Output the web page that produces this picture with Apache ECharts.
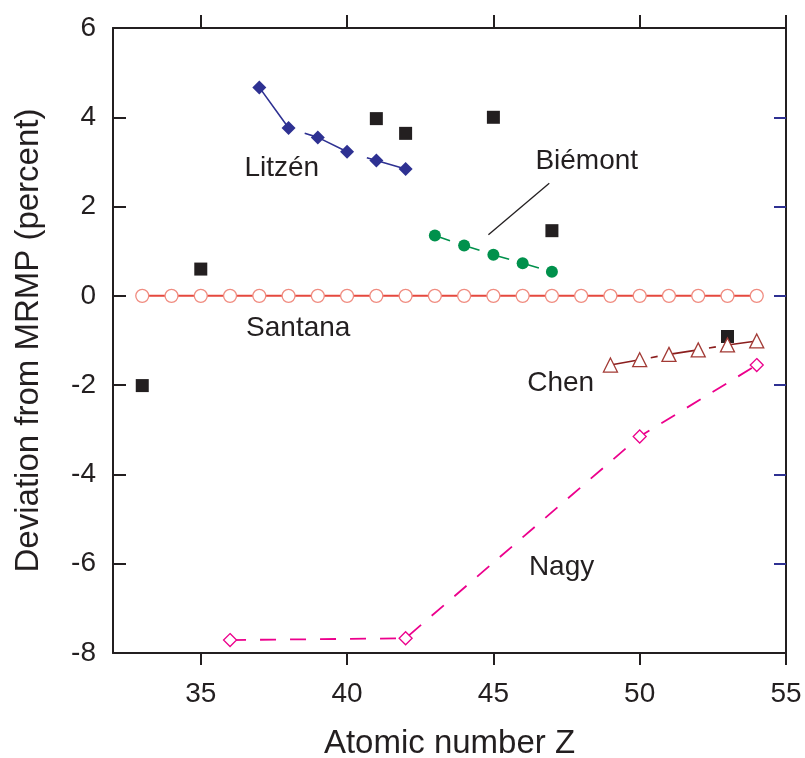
<!DOCTYPE html>
<html><head><meta charset="utf-8">
<script src="https://cdn.jsdelivr.net/npm/echarts@6/dist/echarts.min.js"></script>
<style>html,body{margin:0;padding:0;background:#fff}#c{width:805px;height:758px}</style>
</head><body><div id="c"></div>
<script>
const xTicks = [35, 40, 45, 50, 55];
const yTicks = [-8, -6, -4, -2, 0, 2, 4, 6];
const rightTicks = [-6, -4, -2, 0, 2, 4];

const santanaZ = [33,34,35,36,37,38,39,40,41,42,43,44,45,46,47,48,49,50,51,52,53,54];
const santanaV = [0,0,0,0,0,0,0,0,0,0,0,0,0,0,0,0,0,0,0,0,0,0];

const squaresZ = [33, 35, 41, 42, 45, 47, 53];
const squaresV = [-2.01, 0.60, 3.97, 3.64, 4.00, 1.46, -0.91];

const litzenZ = [37, 38, 39, 40, 41, 42];
const litzenV = [4.67, 3.76, 3.55, 3.23, 3.03, 2.84];

const biemontZ = [43, 44, 45, 46, 47];
const biemontV = [1.35, 1.13, 0.92, 0.73, 0.54];

const chenZ = [49, 50, 51, 52, 53, 54];
const chenV = [-1.55, -1.43, -1.31, -1.21, -1.10, -1.01];

const nagyZ = [36, 42, 50, 54];
const nagyV = [-7.71, -7.67, -3.15, -1.55];

const annoText = ['Litzén', 'Biémont', 'Santana', 'Chen', 'Nagy'];
const annoZ = [37.77, 48.19, 38.33, 47.30, 47.33];
const annoV = [2.86, 3.01, -0.72, -1.96, -6.08];

const leaderZ = [46.91, 44.83];
const leaderV = [2.52, 1.37];

const pairs = (xs, ys) => xs.map((x, i) => [x, ys[i]]);
const INK = '#231f20';
const FONT = '"Liberation Sans", Arial, sans-serif';

const chart = echarts.init(document.getElementById('c'), null, {renderer: 'canvas'});
chart.setOption({
  animation: false,
  backgroundColor: '#fff',
  grid: {left: 113, top: 28, right: 19, bottom: 105, containLabel: false, outerBoundsMode: 'none'},
  xAxis: [{
    type: 'value', min: 32, max: 55, position: 'bottom',
    name: 'Atomic number Z', nameLocation: 'middle', nameGap: 74,
    nameTextStyle: {fontSize: 33, color: INK, fontFamily: FONT},
    axisLine: {show: true, onZero: false, lineStyle: {color: INK, width: 2}},
    axisTick: {show: true, inside: false, length: 12, customValues: xTicks, lineStyle: {color: INK, width: 2}},
    axisLabel: {show: true, customValues: xTicks, margin: 27, fontSize: 28, color: INK, fontFamily: FONT},
    splitLine: {show: false}
  }, {
    type: 'value', min: 32, max: 55, position: 'top',
    axisLine: {show: true, onZero: false, lineStyle: {color: INK, width: 2}},
    axisTick: {show: true, inside: false, length: 13, customValues: xTicks, lineStyle: {color: INK, width: 2}},
    axisLabel: {show: false},
    splitLine: {show: false}
  }],
  yAxis: [{
    type: 'value', min: -8, max: 6, interval: 2, position: 'left',
    name: 'Deviation from MRMP (percent)', nameLocation: 'middle', nameGap: 68,
    nameTextStyle: {fontSize: 33, color: INK, fontFamily: FONT},
    axisLine: {show: true, onZero: false, lineStyle: {color: INK, width: 2}},
    axisTick: {show: true, inside: true, length: 13, lineStyle: {color: INK, width: 2}},
    axisLabel: {show: true, customValues: yTicks, margin: 17, fontSize: 28, color: INK, fontFamily: FONT},
    splitLine: {show: false}
  }, {
    type: 'value', min: -8, max: 6, interval: 2, position: 'right',
    axisLine: {show: true, onZero: false, lineStyle: {color: INK, width: 2}},
    axisTick: {show: true, inside: true, length: 12, customValues: rightTicks, lineStyle: {color: '#2e3192', width: 2}},
    axisLabel: {show: false},
    splitLine: {show: false}
  }],
  series: [
    {
      name: 'Santana', type: 'line', data: pairs(santanaZ, santanaV),
      symbol: 'circle', symbolSize: 13, showSymbol: true,
      lineStyle: {color: '#e5483e', width: 2},
      itemStyle: {color: '#fff', borderColor: '#f08c80', borderWidth: 1.3},
      z: 2
    },
    {
      name: 'Squares', type: 'scatter', data: pairs(squaresZ, squaresV),
      symbol: 'rect', symbolSize: 13, itemStyle: {color: INK, opacity: 1}, z: 3
    },
    {
      name: 'Litzén', type: 'line', data: pairs(litzenZ, litzenV),
      symbol: 'diamond', symbolSize: 14,
      lineStyle: {color: '#2e3192', width: 1.6, type: [48, 19]},
      itemStyle: {color: '#2e3192'}, z: 4
    },
    {
      name: 'Biémont', type: 'line', data: pairs(biemontZ, biemontV),
      symbol: 'circle', symbolSize: 12,
      lineStyle: {color: '#00914c', width: 1.6, type: [16, 15]},
      itemStyle: {color: '#00914c'}, z: 4
    },
    {
      name: 'Chen', type: 'line', data: pairs(chenZ, chenV),
      symbol: 'triangle', symbolSize: 14,
      lineStyle: {color: '#8b1e1e', width: 1.6, type: [32, 9, 7, 11]},
      itemStyle: {color: '#fff', borderColor: '#a23a35', borderWidth: 1.3}, z: 4
    },
    {
      name: 'Nagy', type: 'line', data: pairs(nagyZ, nagyV),
      symbol: 'diamond', symbolSize: 13,
      lineStyle: {color: '#ec008c', width: 1.8, type: [16, 14]},
      itemStyle: {color: '#fff', borderColor: '#ec008c', borderWidth: 1.3}, z: 4
    },
    {
      name: 'leader', type: 'line', data: pairs(leaderZ, leaderV),
      symbol: 'none', lineStyle: {color: INK, width: 1.3}, z: 3
    },
    {
      name: 'labels', type: 'scatter', symbolSize: 0, z: 5,
      itemStyle: {opacity: 1},
      data: annoText.map((t, i) => ({name: t, value: [annoZ[i], annoV[i]]})),
      label: {show: true, position: 'inside', formatter: p => p.name, fontSize: 28, color: INK, opacity: 1, fontFamily: FONT}
    }
  ]
});
</script></body></html>
